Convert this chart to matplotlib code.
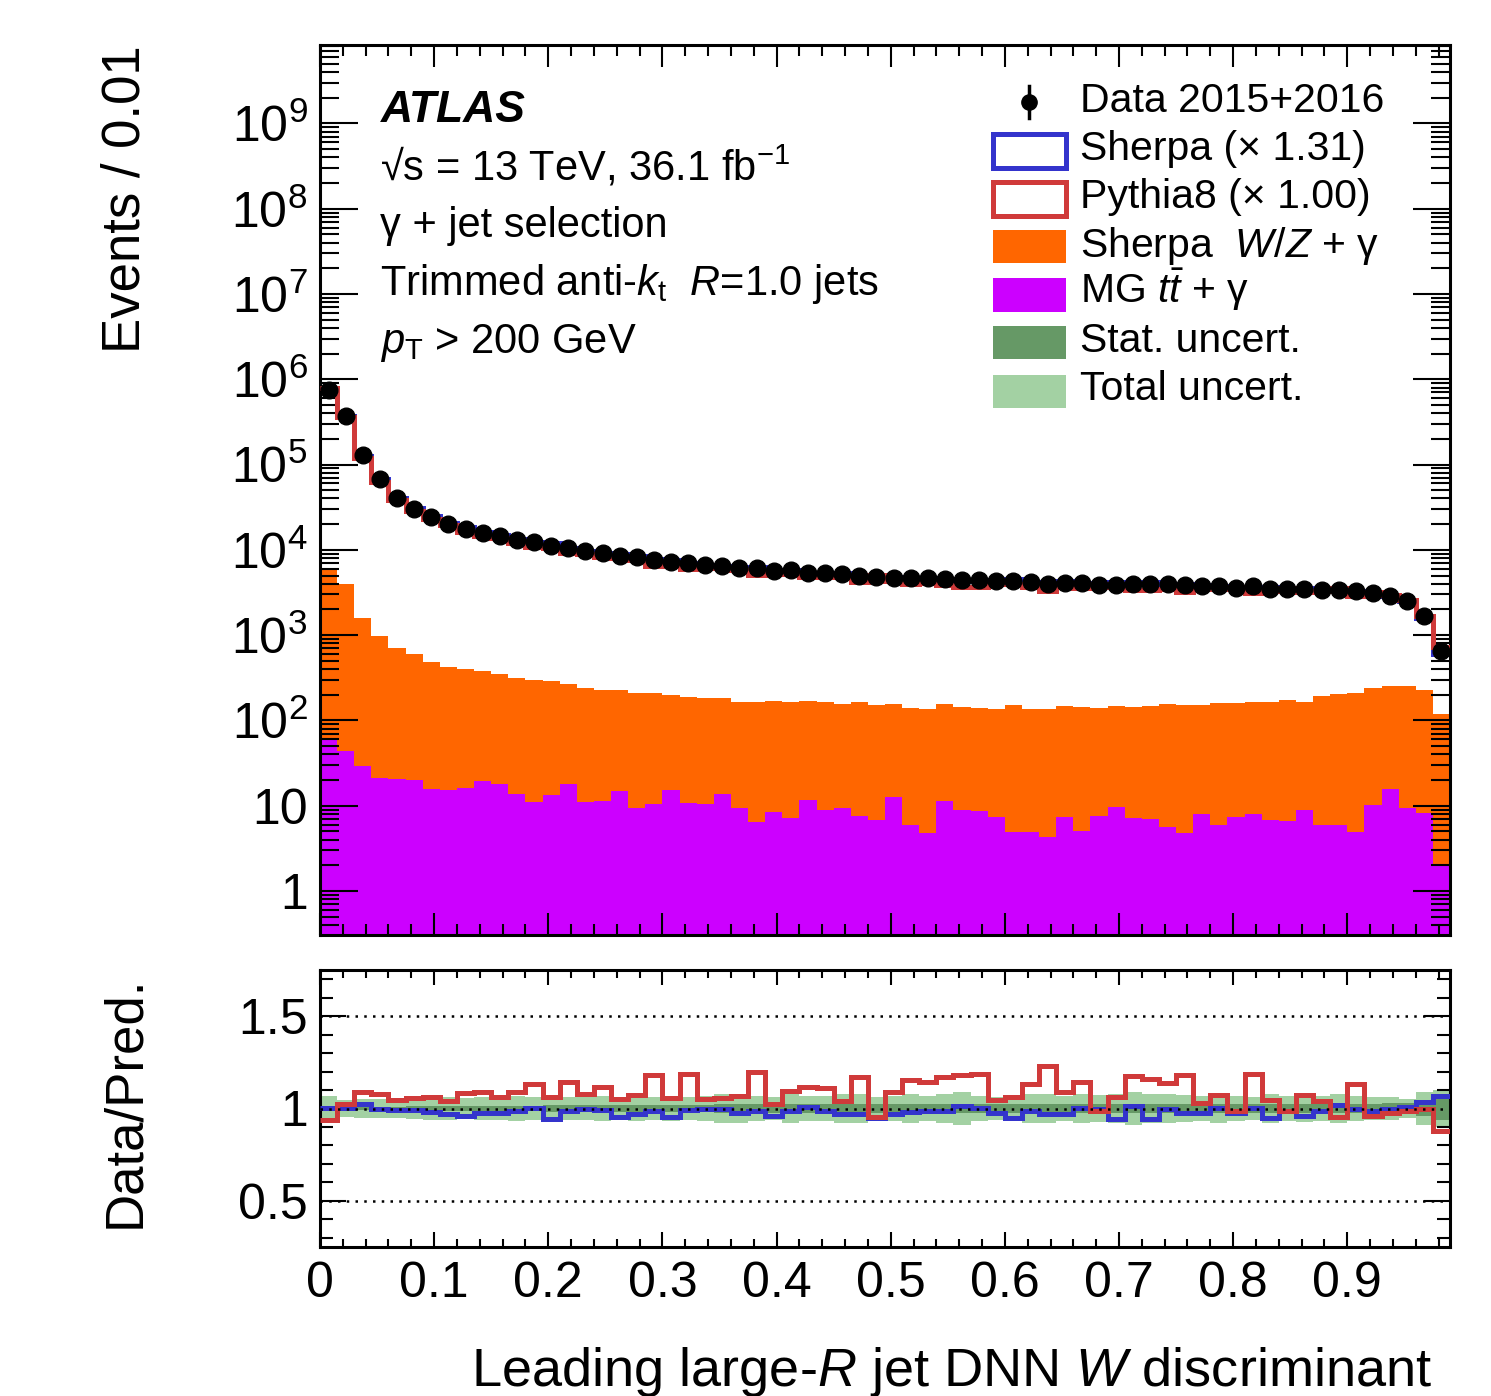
import numpy as np
import matplotlib
matplotlib.use('Agg')
import matplotlib.pyplot as plt
from matplotlib.patches import Rectangle
from matplotlib.lines import Line2D
from matplotlib.ticker import LogLocator, NullFormatter, FuncFormatter, MultipleLocator, FixedLocator

plt.rcParams['font.family'] = ['Liberation Sans', 'DejaVu Sans']
plt.rcParams['mathtext.fontset'] = 'custom'
plt.rcParams['mathtext.rm'] = 'Liberation Sans'
plt.rcParams['mathtext.it'] = 'Liberation Sans:italic'
plt.rcParams['mathtext.bf'] = 'Liberation Sans:bold'

# 66 bins of the DNN W discriminant
edges = np.linspace(0.0, 0.99, 67)

data = [7.5e5, 3.75e5, 1.3e5, 6.7e4, 4.0e4, 3.03e4, 2.42e4, 2.02e4, 1.77e4, 1.57e4,
        1.45e4, 1.32e4, 1.23e4, 1.12e4, 1.04e4, 9660, 9160, 8500, 8150, 7700,
        7200, 6980, 6700, 6390, 6170, 6120, 5630, 5740, 5390, 5340,
        5150, 4970, 4790, 4710, 4630, 4630, 4540, 4380, 4380, 4300,
        4270, 4190, 4010, 4120, 4120, 3920, 3900, 4000, 3950, 3950,
        3830, 3730, 3760, 3600, 3730, 3470, 3500, 3470, 3410, 3370,
        3280, 3110, 2850, 2530, 1660, 646]

# Data / prediction
ratio_pythia = [0.94, 1.025, 1.088, 1.081, 1.048, 1.058, 1.061, 1.039, 1.085, 1.090,
                1.063, 1.090, 1.133, 1.063, 1.142, 1.081, 1.117, 1.052, 1.075, 1.182,
                1.058, 1.185, 1.052, 1.055, 1.066, 1.198, 1.025, 1.093, 1.115, 1.109,
                1.043, 1.169, 0.953, 1.088, 1.156, 1.145, 1.169, 1.183, 1.187, 1.048,
                1.061, 1.133, 1.228, 1.088, 1.142, 0.989, 1.063, 1.174, 1.160, 1.138,
                1.183, 1.031, 1.075, 0.985, 1.189, 1.045, 0.989, 1.075, 1.039, 0.955,
                1.133, 0.962, 0.973, 0.985, 0.995, 0.878]
ratio_sherpa = [1.004, 1.004, 1.022, 0.995, 0.991, 0.991, 0.980, 0.968, 0.959, 0.973,
                0.973, 0.985, 1.004, 0.941, 0.985, 0.995, 0.991, 0.953, 0.968, 0.985,
                0.955, 0.991, 1.000, 1.000, 0.977, 0.985, 0.959, 0.985, 1.007, 0.989,
                0.968, 0.968, 0.946, 0.968, 0.980, 0.989, 0.989, 1.013, 1.004, 0.973,
                0.950, 0.989, 0.968, 0.968, 1.004, 0.998, 0.941, 1.013, 0.941, 0.995,
                0.973, 0.973, 1.004, 0.973, 1.004, 0.946, 0.989, 0.962, 0.989, 1.018,
                1.000, 0.989, 0.998, 1.007, 1.034, 1.066]

# Backgrounds (stacked)
ttg = [58.6, 44, 29.3, 21.4, 20.3, 20.1, 15.8, 15.2, 16.2, 19.6,
       17.8, 13.9, 11.1, 13.2, 17.9, 11.1, 11.5, 15.0, 9.4, 10.6,
       15.2, 10.8, 10.5, 13.9, 9.4, 6.5, 8.5, 7.1, 11.7, 9.0,
       9.4, 7.5, 6.8, 12.6, 6.0, 4.8, 11.4, 9.0, 8.6, 7.3,
       4.9, 4.9, 4.3, 7.3, 5.0, 7.6, 9.6, 7.1, 7.0, 5.6,
       4.8, 8.0, 6.0, 7.4, 8.0, 6.8, 6.7, 8.9, 6.0, 6.0,
       4.9, 10.1, 15.9, 9.3, 8.3, 2.0]
wzg = [5840, 3890, 1570, 965, 694, 587, 474, 408, 382, 357,
       332, 298, 285, 275, 252, 232, 218, 211, 203, 199,
       181, 178, 175, 171, 157, 160, 159, 159, 159, 154,
       146, 155, 146, 143, 133, 133, 144, 134, 130, 128,
       146, 130, 131, 141, 137, 134, 138, 135, 140, 150,
       147, 145, 152, 152, 157, 159, 167, 156, 186, 197,
       205, 230, 240, 247, 218, 118]

# Relative uncertainties (half widths)
unc_total = [0.07, 0.045, 0.05, 0.05, 0.05, 0.055, 0.06, 0.06, 0.055, 0.06,
             0.06, 0.065, 0.06, 0.07, 0.06, 0.06, 0.065, 0.06, 0.065, 0.06,
             0.065, 0.06, 0.065, 0.08, 0.08, 0.07, 0.06, 0.08, 0.07, 0.065,
             0.08, 0.08, 0.06, 0.07, 0.08, 0.07, 0.08, 0.09, 0.07, 0.06,
             0.07, 0.08, 0.08, 0.07, 0.08, 0.075, 0.08, 0.09, 0.08, 0.08,
             0.075, 0.07, 0.08, 0.07, 0.06, 0.08, 0.07, 0.075, 0.07, 0.08,
             0.07, 0.06, 0.06, 0.05, 0.09, 0.10]
unc_stat = [0.01, 0.01, 0.01, 0.01, 0.01, 0.012, 0.012, 0.012, 0.012, 0.015,
            0.015, 0.015, 0.015, 0.02, 0.02, 0.02, 0.02, 0.02, 0.02, 0.02,
            0.02, 0.02, 0.02, 0.025, 0.025, 0.025, 0.025, 0.025, 0.025, 0.025,
            0.025, 0.025, 0.025, 0.025, 0.025, 0.025, 0.025, 0.025, 0.025, 0.025,
            0.025, 0.025, 0.025, 0.025, 0.025, 0.025, 0.025, 0.025, 0.025, 0.025,
            0.025, 0.025, 0.025, 0.025, 0.025, 0.025, 0.025, 0.025, 0.025, 0.025,
            0.025, 0.025, 0.03, 0.03, 0.04, 0.06]

data = np.array(data)
ratio_pythia = np.array(ratio_pythia)
ratio_sherpa = np.array(ratio_sherpa)
ttg = np.array(ttg)
wzg = np.array(wzg)
unc_total = np.array(unc_total)
unc_stat = np.array(unc_stat)
centers = 0.5 * (edges[1:] + edges[:-1])

sherpa = data / ratio_sherpa
pythia = data / ratio_pythia

c_blue = '#3434cc'
c_red = '#d03a3a'
c_orange = '#ff6600'
c_purple = '#cc00ff'
c_stat = '#669966'
c_total = '#a3d1a3'

W, H = 1491, 1396
fig = plt.figure(figsize=(W / 100, H / 100), dpi=100)
ax = fig.add_axes([320 / W, 1 - 935 / H, 1130 / W, 890 / H])
rax = fig.add_axes([320 / W, 1 - 1247 / H, 1130 / W, 277 / H])

# ---- main panel
ax.stairs(ttg, edges, baseline=1e-3, fill=True, color=c_purple, zorder=1)
ax.stairs(ttg + wzg, edges, baseline=ttg, fill=True, color=c_orange, zorder=1)
ax.stairs(sherpa, edges, baseline=None, color=c_blue, lw=3.6, zorder=2)
ax.stairs(pythia, edges, baseline=None, color=c_red, lw=3.6, zorder=3)
ax.plot(centers, data, 'o', color='k', ms=12, zorder=4)

ax.set_yscale('log')
ax.set_ylim(0.305, 8.3e9)
ax.set_xlim(0, 0.99)
ax.yaxis.set_major_locator(LogLocator(base=10, numticks=20))
ax.yaxis.set_minor_locator(LogLocator(base=10, subs=np.arange(2, 10), numticks=30))
ax.yaxis.set_minor_formatter(NullFormatter())


def log_label(v, pos):
    n = int(round(np.log10(v)))
    if n == 0:
        return '1'
    if n == 1:
        return '10'
    return r'$10^{%d}$' % n


ax.yaxis.set_major_formatter(FuncFormatter(log_label))

for a in (ax, rax):
    a.xaxis.set_major_locator(MultipleLocator(0.1))
    a.xaxis.set_minor_locator(MultipleLocator(0.02))
    for s in a.spines.values():
        s.set_linewidth(2.2)

ax.tick_params(which='both', direction='in', top=True, right=True, width=1.5,
               labelbottom=False, labelsize=36, pad=9)
ax.tick_params(axis='y', which='major', length=27)
ax.tick_params(axis='y', which='minor', length=14)
ax.tick_params(axis='x', which='major', length=16)
ax.tick_params(axis='x', which='minor', length=8)

# ---- ratio panel
rax.stairs(1 + unc_total, edges, baseline=1 - unc_total, fill=True, color=c_total, zorder=1)
rax.stairs(1 + unc_stat, edges, baseline=1 - unc_stat, fill=True, color=c_stat, zorder=2)
rax.stairs(ratio_sherpa, edges, baseline=None, color=c_blue, lw=3.6, zorder=3)
rax.stairs(ratio_pythia, edges, baseline=None, color=c_red, lw=3.6, zorder=4)
for yv in (0.5, 1.0, 1.5):
    rax.axhline(yv, color='k', ls=(0, (1, 2.5)), lw=1.8, zorder=5)

rax.set_xlim(0, 0.99)
rax.set_ylim(0.25, 1.75)
rax.yaxis.set_major_locator(FixedLocator([0.5, 1.0, 1.5]))
rax.yaxis.set_minor_locator(MultipleLocator(0.1))
rax.yaxis.set_major_formatter(FuncFormatter(lambda v, p: '1' if abs(v - 1) < 1e-6 else '%.1f' % v))
rax.xaxis.set_major_formatter(FuncFormatter(lambda v, p: '0' if abs(v) < 1e-6 else '%.1f' % v))
rax.tick_params(which='both', direction='in', top=True, right=True, width=1.5, labelsize=36)
rax.tick_params(axis='y', which='major', length=19, pad=9)
rax.tick_params(axis='y', which='minor', length=9.5)
rax.tick_params(axis='x', which='major', length=11, pad=10)
rax.tick_params(axis='x', which='minor', length=5.5)


def fp(x, y):
    return x / W, 1 - y / H


# axis titles
fig.text(*fp(125, 45), 'Events / 0.01', rotation=90, ha='center', va='top', fontsize=38)
fig.text(*fp(125, 975), 'Data/Pred.', rotation=90, ha='center', va='top', fontsize=38)
fig.text(*fp(1432, 1386), 'Leading large-$R$ jet DNN $W$ discriminant',
         ha='right', va='baseline', fontsize=39)

# labels
fig.text(*fp(381, 122), 'ATLAS', fontsize=32, fontweight='bold', style='italic', va='baseline')
fig.text(*fp(380, 180), '√s = 13 TeV, 36.1 fb$^{-1}$', fontsize=30, va='baseline')
fig.text(*fp(380, 237), 'γ + jet selection', fontsize=30, va='baseline')
fig.text(*fp(380, 295), 'Trimmed anti-$k_{\\mathrm{t}}$  $R$=1.0 jets', fontsize=30, va='baseline')
fig.text(*fp(380, 353), '$p_{\\mathrm{T}}$ > 200 GeV', fontsize=30, va='baseline')

# legend
leg_x = 1080
leg_rows = [('Data 2015+2016', 112), ('Sherpa (× 1.31)', 160), ('Pythia8 (× 1.00)', 208),
            ('Sherpa  $W/Z$ + γ', 257), ('MG $t\\bar{t}$ + γ', 303),
            ('Stat. uncert.', 352), ('Total uncert.', 400)]
for label, yb in leg_rows:
    fig.text(*fp(leg_x, yb), label, fontsize=29.5, va='baseline')

mx, my = fp(1029, 102)
fig.add_artist(Line2D([mx, mx], [fp(0, 86)[1], fp(0, 118)[1]], color='k', lw=2.5,
                      transform=fig.transFigure))
fig.add_artist(Line2D([mx], [my], marker='o', color='k', ms=11, transform=fig.transFigure))


def box(y0, y1, face, edge=None, lw=0):
    x0, yy0 = fp(993, y1)
    x1, yy1 = fp(1066, y0)
    fig.add_artist(Rectangle((x0, yy0), x1 - x0, yy1 - yy0, transform=fig.transFigure,
                             facecolor=face, edgecolor=edge if edge else face, lw=lw))


box(134, 168, 'none', c_blue, 3.6)
box(182, 216, 'none', c_red, 3.6)
box(230, 263, c_orange)
box(278, 312, c_purple)
box(326, 359, c_stat)
box(375, 408, c_total)

fig.savefig('out.png', dpi=100)
